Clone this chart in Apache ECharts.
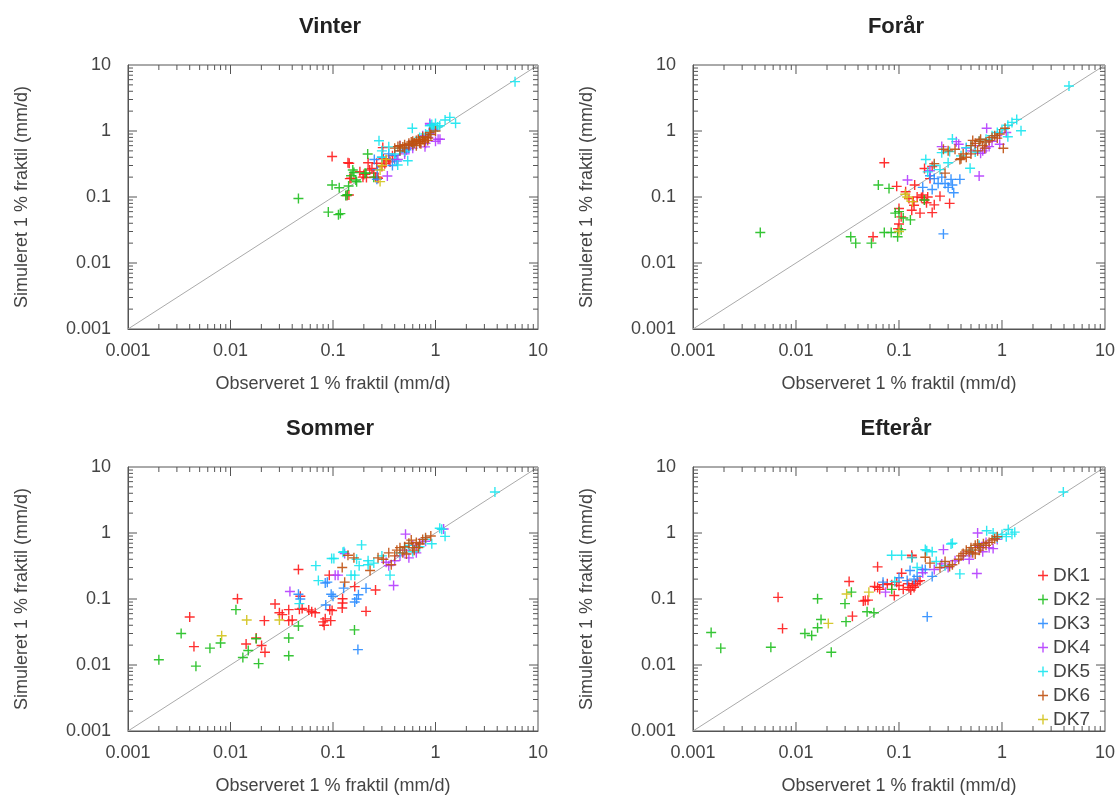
<!DOCTYPE html>
<html>
<head>
<meta charset="utf-8">
<script src="https://cdn.jsdelivr.net/npm/echarts@6/dist/echarts.min.js"></script>
<style>html,body{margin:0;padding:0;background:#fff}#c{width:1118px;height:796px}</style>
</head>
<body>
<div id="c"></div>
<script>
// ---------- tick labels / categories ----------
const tickLabels = ['0.001', '0.01', '0.1', '1', '10'];
const majorTicks = [0.01, 0.1, 1];
const minorTicks = [0.002,0.003,0.004,0.005,0.006,0.007,0.008,0.009,
                    0.02,0.03,0.04,0.05,0.06,0.07,0.08,0.09,
                    0.2,0.3,0.4,0.5,0.6,0.7,0.8,0.9,
                    2,3,4,5,6,7,8,9];
const diagonal = [0.001, 10];
const seriesNames = ['DK1','DK2','DK3','DK4','DK5','DK6','DK7'];
const seasonTitles = ['Vinter','Forår','Sommer','Efterår'];
const xTitle = 'Observeret 1 % fraktil (mm/d)';
const yTitle = 'Simuleret 1 % fraktil (mm/d)';

// ---------- Vinter ----------
const vinter_DK1 = [[0.098,0.41],[0.144,0.325],[0.15,0.192],[0.143,0.107],[0.137,0.105],[0.183,0.241],[0.22,0.331],[0.212,0.197],[0.228,0.256],[0.267,0.325],[0.306,0.56],[0.31,0.38],[0.33,0.36],[0.35,0.37],[0.36,0.34],[0.275,0.192],[0.25,0.23],[0.2,0.22],[0.24,0.27],[0.3,0.29],[0.32,0.32],[0.38,0.42],[0.26,0.2],[0.196,0.2],[0.146,0.19],[0.14,0.33],[0.27,0.2]];
const vinter_DK2 = [[0.046,0.095],[0.09,0.059],[0.113,0.054],[0.118,0.056],[0.098,0.152],[0.115,0.138],[0.133,0.105],[0.138,0.108],[0.142,0.147],[0.156,0.256],[0.16,0.235],[0.167,0.181],[0.218,0.449],[0.205,0.23],[0.25,0.2],[0.15,0.21],[0.17,0.17],[0.21,0.23]];
const vinter_DK3 = [[0.253,0.37],[0.268,0.186],[0.27,0.26],[0.3,0.4],[0.35,0.45],[0.4,0.43],[0.4,0.37],[0.45,0.5],[0.5,0.48],[0.52,0.52],[0.55,0.55],[0.42,0.35],[0.6,0.6],[0.38,0.3]];
const vinter_DK4 = [[0.339,0.208],[0.883,1.23],[1.106,0.749],[0.79,0.575],[0.9,0.9],[0.45,0.6],[0.55,0.62],[0.7,0.7],[0.8,0.65],[0.85,0.8],[0.95,1.05],[0.6,0.55],[0.43,0.37],[0.5,0.45],[1.0,0.7],[0.75,0.85],[0.88,1.3],[1.06,0.75]];
const vinter_DK5 = [[0.594,1.1],[0.281,0.713],[0.35,0.575],[0.536,0.355],[0.428,0.305],[1.38,1.61],[1.57,1.31],[1.24,1.47],[0.88,1.2],[0.95,1.1],[1.0,1.3],[1.1,1.2],[0.9,1.0],[0.8,0.9],[0.5,0.5],[0.45,0.55],[0.6,0.65],[0.3,0.4],[0.4,0.45],[5.97,5.59],[0.7,0.8],[0.3,0.5],[1.05,1.15],[0.92,1.25]];
const vinter_DK6 = [[0.43,0.58],[0.45,0.6],[0.5,0.62],[0.55,0.65],[0.6,0.7],[0.62,0.66],[0.65,0.72],[0.7,0.7],[0.75,0.75],[0.8,0.8],[0.85,0.78],[0.88,0.95],[0.5,0.55],[0.55,0.6],[0.6,0.62],[0.7,0.65],[0.78,0.68],[0.45,0.5],[0.4,0.55],[0.9,0.88],[1.0,1.0],[0.65,0.6],[0.72,0.64],[0.58,0.68],[0.48,0.57],[0.68,0.75],[0.84,0.72],[0.75,0.82]];
const vinter_DK7 = [[0.288,0.171],[0.288,0.256],[0.33,0.37],[0.3,0.3]];

// ---------- Forår ----------
const foraar_DK1 = [[0.072,0.331],[0.095,0.145],[0.1,0.067],[0.1,0.039],[0.098,0.033],[0.056,0.025],[0.116,0.12],[0.137,0.085],[0.142,0.152],[0.133,0.063],[0.16,0.057],[0.17,0.107],[0.177,0.09],[0.185,0.082],[0.21,0.058],[0.22,0.076],[0.25,0.103],[0.31,0.08],[0.177,0.27],[0.21,0.29],[0.2,0.19],[0.15,0.1],[0.125,0.095],[0.165,0.098],[0.19,0.1],[0.105,0.05],[0.14,0.075]];
const foraar_DK2 = [[0.0045,0.029],[0.034,0.025],[0.038,0.02],[0.054,0.02],[0.072,0.029],[0.084,0.029],[0.097,0.025],[0.063,0.152],[0.08,0.135],[0.092,0.057],[0.11,0.048],[0.129,0.045],[0.1,0.06],[0.176,0.09],[0.105,0.032]];
const foraar_DK3 = [[0.17,0.14],[0.21,0.13],[0.22,0.19],[0.24,0.16],[0.28,0.16],[0.33,0.152],[0.34,0.116],[0.39,0.185],[0.32,0.185],[0.27,0.0276],[0.2,0.21],[0.26,0.2],[0.3,0.14]];
const foraar_DK4 = [[0.121,0.181],[0.71,1.1],[0.6,0.208],[0.36,0.69],[0.62,0.46],[0.95,0.63],[0.2,0.25],[0.5,0.5],[0.55,0.6],[0.7,0.55],[0.8,0.7],[0.9,0.85],[0.65,0.5],[0.75,0.58],[1.1,0.95],[0.45,0.55],[0.26,0.58],[0.38,0.63]];
const foraar_DK5 = [[0.182,0.37],[0.19,0.24],[0.25,0.26],[0.49,0.272],[0.33,0.757],[0.26,0.47],[0.31,0.49],[4.47,4.81],[1.39,1.5],[1.53,1.01],[1.14,0.82],[1.14,1.22],[1.25,1.35],[0.45,0.56],[0.5,0.6],[0.6,0.7],[0.7,0.75],[0.8,0.85],[0.9,0.95],[1.0,1.05],[0.55,0.48],[0.4,0.42],[0.3,0.33],[0.22,0.3]];
const foraar_DK6 = [[1.03,0.547],[0.27,0.53],[0.39,0.37],[1.07,1.1],[0.5,0.6],[0.55,0.65],[0.6,0.7],[0.62,0.75],[0.65,0.6],[0.7,0.68],[0.58,0.5],[0.5,0.45],[0.45,0.4],[0.42,0.45],[0.75,0.72],[0.8,0.8],[0.85,0.85],[0.9,0.78],[0.35,0.53],[0.3,0.5],[0.4,0.38],[0.68,0.55],[0.22,0.32],[0.28,0.23],[0.95,0.9],[0.52,0.72]];
const foraar_DK7 = [[0.12,0.1],[0.1,0.03],[0.135,0.085],[0.115,0.11]];

// ---------- Sommer ----------
const sommer_DK1 = [[0.004,0.0533],[0.0044,0.019],[0.0117,0.101],[0.0142,0.0208],[0.0178,0.0256],[0.0201,0.0197],[0.0217,0.0156],[0.0214,0.047],[0.0272,0.084],[0.03,0.062],[0.032,0.058],[0.037,0.069],[0.037,0.047],[0.04,0.048],[0.046,0.28],[0.048,0.11],[0.047,0.07],[0.05,0.072],[0.062,0.064],[0.067,0.062],[0.084,0.05],[0.082,0.04],[0.093,0.069],[0.095,0.047],[0.098,0.067],[0.123,0.073],[0.124,0.101],[0.124,0.087],[0.21,0.065],[0.26,0.137],[0.163,0.154],[0.092,0.23],[0.058,0.068],[0.08,0.045]];
const sommer_DK2 = [[0.002,0.012],[0.0033,0.03],[0.0046,0.0096],[0.0063,0.018],[0.008,0.0215],[0.0113,0.069],[0.0132,0.013],[0.0149,0.0166],[0.0178,0.025],[0.0188,0.0105],[0.037,0.0256],[0.037,0.0138],[0.046,0.039],[0.162,0.034]];
const sommer_DK3 = [[0.046,0.118],[0.084,0.175],[0.088,0.18],[0.096,0.118],[0.1,0.11],[0.085,0.081],[0.127,0.146],[0.163,0.09],[0.177,0.116],[0.17,0.1],[0.21,0.145],[0.175,0.0171],[0.048,0.1]];
const sommer_DK4 = [[0.038,0.13],[0.105,0.23],[0.112,0.23],[0.13,0.49],[0.39,0.16],[0.35,0.32],[0.51,0.96],[1.2,1.15],[0.45,0.45],[0.5,0.55],[0.6,0.65],[0.7,0.7],[0.55,0.42],[0.4,0.38],[0.33,0.36],[0.8,0.75],[0.65,0.5]];
const sommer_DK5 = [[0.047,0.085],[0.068,0.32],[0.072,0.19],[0.097,0.41],[0.102,0.41],[0.125,0.51],[0.128,0.52],[0.15,0.23],[0.163,0.23],[0.18,0.32],[0.19,0.66],[0.22,0.38],[0.22,0.33],[0.25,0.35],[0.36,0.23],[0.92,0.686],[1.24,0.89],[1.15,1.14],[1.1,1.18],[3.8,4.19],[0.5,0.6],[0.55,0.65],[0.6,0.52],[0.7,0.62],[0.8,0.8],[0.45,0.5],[0.17,0.4],[0.3,0.45]];
const sommer_DK6 = [[0.14,0.46],[0.123,0.3],[0.13,0.18],[0.275,0.42],[0.16,0.42],[0.23,0.27],[0.31,0.4],[0.37,0.33],[0.4,0.45],[0.42,0.55],[0.45,0.6],[0.48,0.5],[0.5,0.62],[0.52,0.48],[0.55,0.7],[0.6,0.6],[0.62,0.55],[0.65,0.72],[0.7,0.68],[0.75,0.8],[0.8,0.85],[0.58,0.78],[0.68,0.6],[0.35,0.5],[0.9,0.9]];
const sommer_DK7 = [[0.0082,0.0277],[0.0144,0.048],[0.03,0.048]];

// ---------- Efterår ----------
const efteraar_DK1 = [[0.0067,0.106],[0.0074,0.0356],[0.0328,0.184],[0.0353,0.055],[0.045,0.093],[0.047,0.095],[0.05,0.096],[0.058,0.155],[0.062,0.15],[0.065,0.14],[0.062,0.307],[0.077,0.17],[0.085,0.165],[0.09,0.113],[0.106,0.245],[0.122,0.17],[0.13,0.137],[0.125,0.15],[0.14,0.15],[0.135,0.16],[0.152,0.184],[0.16,0.19],[0.133,0.46],[0.134,0.43],[0.1,0.16],[0.11,0.14],[0.145,0.17],[0.095,0.18],[0.07,0.165]];
const efteraar_DK2 = [[0.0015,0.031],[0.00186,0.018],[0.0057,0.0186],[0.0162,0.101],[0.0122,0.03],[0.0142,0.028],[0.0162,0.0366],[0.0175,0.049],[0.022,0.0156],[0.0299,0.085],[0.0306,0.0454],[0.0345,0.127],[0.049,0.064],[0.0571,0.062],[0.085,0.14]];
const efteraar_DK3 = [[0.07,0.18],[0.128,0.27],[0.168,0.28],[0.18,0.28],[0.21,0.22],[0.14,0.2],[0.188,0.054],[0.1,0.21],[0.12,0.19],[0.15,0.22]];
const efteraar_DK4 = [[0.074,0.127],[0.17,0.25],[0.26,0.34],[0.27,0.56],[0.57,0.244],[0.58,1.0],[0.48,0.4],[0.82,0.58],[0.35,0.38],[0.42,0.45],[0.5,0.5],[0.6,0.62],[0.7,0.72],[0.75,0.6],[0.9,0.8],[0.65,0.52],[0.3,0.3],[0.22,0.28]];
const efteraar_DK5 = [[0.085,0.46],[0.106,0.46],[0.133,0.42],[0.18,0.56],[0.186,0.54],[0.21,0.52],[0.32,0.68],[0.33,0.7],[0.39,0.24],[0.091,0.184],[0.23,0.37],[3.94,4.19],[1.25,0.96],[0.71,1.08],[0.82,1.0],[1.15,1.13],[1.33,1.03],[1.1,0.88],[0.5,0.55],[0.6,0.65],[0.9,0.85],[1.0,0.95],[0.28,0.32],[0.15,0.3]];
const efteraar_DK6 = [[0.18,0.43],[0.28,0.37],[0.31,0.31],[0.33,0.33],[0.4,0.45],[0.42,0.49],[0.45,0.55],[0.5,0.6],[0.52,0.5],[0.55,0.65],[0.6,0.55],[0.62,0.6],[0.66,0.69],[0.7,0.65],[0.75,0.72],[0.8,0.78],[0.85,0.82],[0.55,0.48],[0.48,0.52],[0.38,0.4],[0.25,0.3],[0.2,0.35],[0.9,0.88],[0.58,0.68]];
const efteraar_DK7 = [[0.0206,0.0427],[0.031,0.119],[0.051,0.127]];

const seasonData = [
  [vinter_DK1, vinter_DK2, vinter_DK3, vinter_DK4, vinter_DK5, vinter_DK6, vinter_DK7],
  [foraar_DK1, foraar_DK2, foraar_DK3, foraar_DK4, foraar_DK5, foraar_DK6, foraar_DK7],
  [sommer_DK1, sommer_DK2, sommer_DK3, sommer_DK4, sommer_DK5, sommer_DK6, sommer_DK7],
  [efteraar_DK1, efteraar_DK2, efteraar_DK3, efteraar_DK4, efteraar_DK5, efteraar_DK6, efteraar_DK7]
];

// ---------- styling ----------
const colors = ['#ff1a1a', '#1fbf1f', '#2a8cff', '#b43cff', '#17e6f0', '#c0500f', '#d2c21a'];
const plus = 'path://M4.3,0h1.4v4.3h4.3v1.4h-4.3v4.3h-1.4v-4.3h-4.3v-1.4h4.3z';
const FONT = 'Liberation Sans, Arial, sans-serif';
const axisCol = '#555';
const grids = [
  {left: 128, top: 65, width: 410, height: 264},
  {left: 693, top: 65, width: 412, height: 264},
  {left: 128, top: 467, width: 410, height: 267},
  {left: 693, top: 467, width: 412, height: 267}
];

const tickData = majorTicks.concat(minorTicks).map(v => [v, v]);
function isMajor(v) { const l = Math.log10(v); return Math.abs(l - Math.round(l)) < 1e-6; }

const option = {
  backgroundColor: '#fff',
  animation: false,
  textStyle: {fontFamily: FONT},
  title: grids.map((g, i) => ({
    text: seasonTitles[i],
    left: g.left + g.width / 2 - 3,
    textAlign: 'center',
    padding: 0,
    top: g.top - 49,
    textStyle: {fontFamily: FONT, fontSize: 22, fontWeight: 'bold', color: '#222'}
  })),
  legend: {
    data: seriesNames,
    orient: 'vertical',
    left: 1033,
    top: 561,
    itemWidth: 10,
    itemHeight: 10,
    itemGap: 5,
    icon: plus,
    textStyle: {fontFamily: FONT, fontSize: 19, color: '#444', lineHeight: 19}
  },
  grid: grids.map(g => Object.assign({show: true, borderColor: axisCol, borderWidth: 1, containLabel: false}, g)),
  xAxis: grids.map((g, i) => ({
    type: 'log', logBase: 10, min: 0.001, max: 10, gridIndex: i,
    name: xTitle, nameLocation: 'middle', nameGap: 46,
    nameTextStyle: {fontFamily: FONT, fontSize: 18, color: '#444'},
    axisLine: {show: true, lineStyle: {color: axisCol}},
    axisTick: {show: false}, splitLine: {show: false}, minorTick: {show: false},
    axisLabel: {margin: 13, fontFamily: FONT, fontSize: 18, color: '#444',
      formatter: v => tickLabels[Math.round(Math.log10(v)) + 3]}
  })),
  yAxis: grids.map((g, i) => ({
    type: 'log', logBase: 10, min: 0.001, max: 10, gridIndex: i,
    name: yTitle, nameLocation: 'middle', nameGap: 97,
    nameTextStyle: {fontFamily: FONT, fontSize: 18, color: '#444'},
    axisLine: {show: true, lineStyle: {color: axisCol}},
    axisTick: {show: false}, splitLine: {show: false}, minorTick: {show: false},
    axisLabel: {margin: 17, fontFamily: FONT, fontSize: 18, color: '#444',
      formatter: v => tickLabels[Math.round(Math.log10(v)) + 3]}
  })),
  series: []
};

grids.forEach((g, i) => {
  option.series.push({
    type: 'line', xAxisIndex: i, yAxisIndex: i, silent: true, symbol: 'none',
    data: diagonal.map(v => [v, v]),
    lineStyle: {color: '#aaaaaa', width: 1}, z: 1
  });
  option.series.push({
    type: 'custom', xAxisIndex: i, yAxisIndex: i, silent: true, z: 5,
    data: tickData,
    renderItem: function (params, api) {
      const v = api.value(0);
      const cs = params.coordSys;
      const L = isMajor(v) ? 9 : 5;
      const px = api.coord([v, 1])[0];
      const py = api.coord([1, v])[1];
      const st = {stroke: axisCol, lineWidth: 1};
      const bx = cs.y + cs.height, rx = cs.x + cs.width;
      return {type: 'group', children: [
        {type: 'line', shape: {x1: px, y1: bx, x2: px, y2: bx - L}, style: st},
        {type: 'line', shape: {x1: px, y1: cs.y, x2: px, y2: cs.y + L}, style: st},
        {type: 'line', shape: {x1: cs.x, y1: py, x2: cs.x + L, y2: py}, style: st},
        {type: 'line', shape: {x1: rx, y1: py, x2: rx - L, y2: py}, style: st}
      ]};
    }
  });
  seasonData[i].forEach((arr, k) => {
    option.series.push({
      type: 'scatter', name: seriesNames[k], xAxisIndex: i, yAxisIndex: i,
      data: arr, symbol: plus, symbolSize: 10, z: 3,
      itemStyle: {color: colors[k], opacity: 0.9}
    });
  });
});

const chart = echarts.init(document.getElementById('c'), null, {renderer: 'canvas'});
chart.setOption(option);
</script>
</body>
</html>
